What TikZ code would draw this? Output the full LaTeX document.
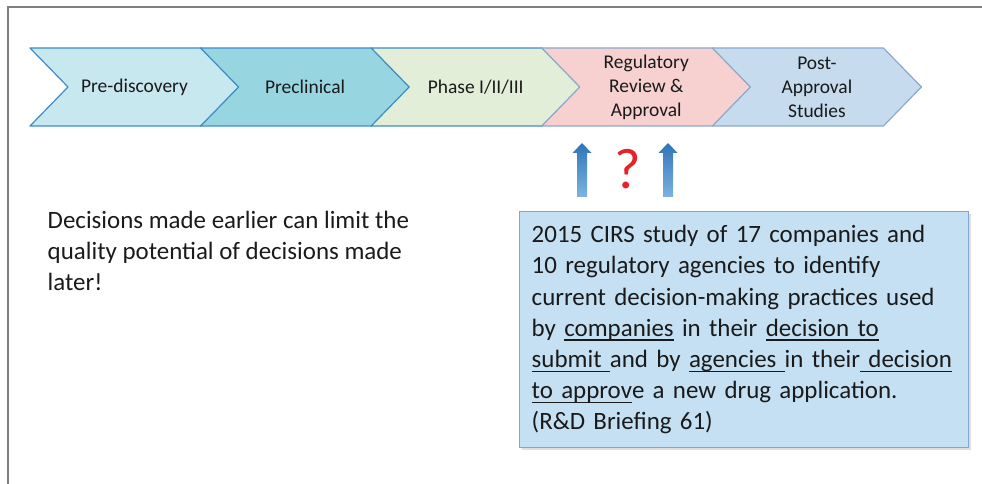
\documentclass[tikz,border=0pt]{standalone}
\usepackage{fontspec}
\setmainfont{Carlito}
\usetikzlibrary{shadows}

\definecolor{framegray}{HTML}{7F7F7F}
\definecolor{fillpre}{HTML}{C8E8EF}
\definecolor{fillprecl}{HTML}{97D5E0}
\definecolor{fillphase}{HTML}{E3EED9}
\definecolor{fillreg}{HTML}{F6D1D0}
\definecolor{fillpost}{HTML}{C6DCEE}
\definecolor{edgeblue}{HTML}{3D8DC8}
\definecolor{edgegray}{HTML}{8CA8CA}
\definecolor{arrtop}{HTML}{2F74B8}
\definecolor{arrbot}{HTML}{7CB3E1}
\definecolor{qred}{HTML}{E8202A}
\definecolor{boxfill}{HTML}{C5E0F3}
\definecolor{boxedge}{HTML}{7EA7D6}
\definecolor{inktext}{HTML}{1A1A1A}

% underline at a fixed depth
\newcommand\uln[1]{\leavevmode\setbox0\hbox{#1}\rlap{\rule[-3.4pt]{\wd0}{1pt}}\box0\relax}

\tikzset{
  chevtext/.style={align=center,text=inktext,font=\fontsize{14.6}{18}\selectfont},
  bodytext/.style={align=left,text=inktext,font=\fontsize{18.7}{23.35}\selectfont},
  uparrow/.style={top color=arrtop,bottom color=arrbot}
}

\begin{document}
\begin{tikzpicture}[x=0.75pt,y=-0.75pt,>=stealth]
\useasboundingbox (0,0) rectangle (982,484);
\draw[framegray,line width=1.2pt] (8,484) -- (8,7) -- (982,7);

% process chevrons
\foreach \i/\fc/\dc/\nm/\txt in {0/fillpre/edgeblue/pre/Pre-discovery,
    1/fillprecl/edgeblue/precl/Preclinical,
    2/fillphase/edgeblue/phase/{Phase I/II/III},
    3/fillreg/edgegray/reg/{Regulatory\\Review \&\\Approval},
    4/fillpost/edgegray/post/{Post-\\Approval\\Studies}}
{
  \pgfmathsetmacro\xa{30+170.6*\i}
  \draw[fill=\fc,draw=\dc,line width=0.9pt,line join=round]
    (\xa,48) -- ++(171,0) -- ++(38,39) -- ++(-38,39) -- ++(-171,0) -- ++(38,-39) -- cycle;
  \node[chevtext] (\nm) at (\xa+104.5,87) {\txt};
}

% arrows and question mark
\shade[uparrow] (577,197) -- (577,153) -- (572.5,153) -- (582,143) -- (591.5,153) -- (587,153) -- (587,197) -- cycle;
\shade[uparrow] (663,197) -- (663,153) -- (658.5,153) -- (668,143) -- (677.5,153) -- (673,153) -- (673,197) -- cycle;
\node[text=qred,font=\fontsize{43}{46}\selectfont] (qmark) at (628,169) {?};

\node[bodytext,anchor=base west] (note) at (43,291)
  {Decisions made earlier can limit the\\quality potential of decisions made\\later!};

\node[bodytext,anchor=north west,fill=boxfill,draw=boxedge,line width=1.1pt,
      minimum height=177pt,text width=318.75pt,inner xsep=9pt,
      drop shadow={opacity=0.25,shadow xshift=1.5pt,shadow yshift=-1.5pt}] (study) at (519,211)
  {2015 CIRS study of 17 companies and\\
   10 regulatory agencies to identify\\
   current decision-making practices used\\
   by \uln{companies} in their \uln{decision to}\\
   \uln{submit }and by \uln{agencies }in their\uln{ decision}\\
   \uln{to approv}e a new drug application.\\
   (R\&D Briefing 61)};
\end{tikzpicture}
\end{document}
